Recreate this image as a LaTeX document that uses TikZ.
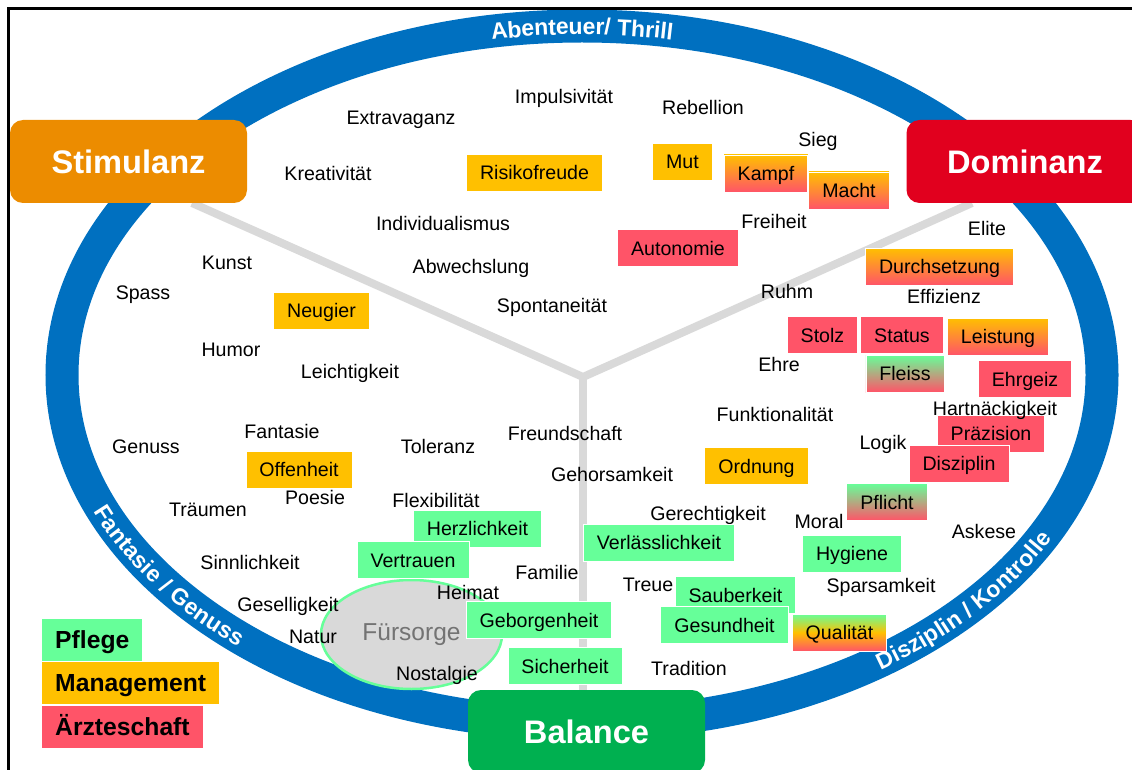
\documentclass[tikz,border=0pt]{standalone}
\usepackage{fontspec}
\setmainfont{Liberation Sans}
\usetikzlibrary{decorations.text,shapes.geometric}

\definecolor{ringblue}{RGB}{0,112,192}
\definecolor{stimorange}{RGB}{236,140,0}
\definecolor{domred}{RGB}{225,0,30}
\definecolor{balgreen}{RGB}{0,176,80}
\definecolor{pflege}{RGB}{102,255,153}
\definecolor{mgmt}{RGB}{255,192,0}
\definecolor{arzt}{RGB}{255,84,104}
\definecolor{spokegray}{RGB}{217,217,217}
\newcommand\wordfont{\fontsize{19.6}{22}\selectfont}
\newcommand\headfont{\fontsize{32.6}{36}\selectfont\bfseries}
\newcommand\ringfont{\fontsize{23}{26}\selectfont\bfseries}
\newcommand\legfont{\fontsize{24.7}{28}\selectfont\bfseries}

\begin{document}
\begin{tikzpicture}[x=1pt,y=1pt,
  word/.style={font=\wordfont,inner sep=0pt,text height=14pt,text depth=0pt},
  tag/.style={word,inner xsep=13.5pt,minimum height=37pt,draw=white,line width=.8pt},
  pfl/.style={tag,fill=pflege},
  mgt/.style={tag,fill=mgmt},
  arz/.style={tag,fill=arzt},
  mgtarz/.style={tag,top color=mgmt,bottom color=arzt},
  pflarz/.style={tag,top color=pflege,bottom color=arzt},
  head/.style={font=\headfont,text=white,text height=23.3pt,text depth=0pt,inner sep=0pt,
    minimum width=237pt,minimum height=83pt,rounded corners=13pt},
  spoke/.style={spokegray,line width=8pt},
  ringtext/.style={decorate,decoration={text along path,text={|\ringfont|#1},
    text color=white,text align=center,raise=-8.5pt}},
  legend/.style={font=\legfont,text height=17.7pt,text depth=0pt,inner xsep=13pt,
    minimum height=42pt,anchor=west}]

\useasboundingbox (0,0) rectangle (1132,-770);
\clip (0,0) rectangle (1132,-770);

\coordinate (ringc) at (582,-375);
\draw[ringblue,line width=33pt] (ringc) ellipse[x radius=520,y radius=349];

\path (ringc) ++(125:520 and 349) coordinate (abA);
\path (ringc) ++(195:520 and 349) coordinate (fgA);
\path (ringc) ++(299:520 and 349) coordinate (dkA);
\path[ringtext=Abenteuer/ Thrill] (abA) arc[start angle=125,end angle=55,x radius=520,y radius=349];
\path[ringtext=Fantasie / Genuss] (fgA) arc[start angle=195,end angle=235,x radius=520,y radius=349];
\path[ringtext=Disziplin / Kontrolle] (dkA) arc[start angle=299,end angle=340,x radius=520,y radius=349];

%% Y
\coordinate (hub) at (583,-377);
\coordinate (stimfoot) at (192,-203);
\coordinate (domfoot) at (972,-203);
\coordinate (balfoot) at (583,-700);
\draw[spoke] (stimfoot)--(hub)--(domfoot);
\draw[spoke] (hub)--(balfoot);

\node[head,fill=stimorange] (stim) at (128.5,-161.5) {Stimulanz};
\node[head,fill=domred] (dom) at (1025,-161.5) {Dominanz};
\node[head,fill=balgreen] (bal) at (586.5,-731.5) {Balance};

\node[ellipse,draw=pflege,line width=2.5pt,fill=spokegray,minimum width=181pt,minimum height=109pt,
  font=\fontsize{24.5}{28}\selectfont,text=black!55] (fuer) at (411.5,-634.5) {Fürsorge};

%% plain words
\node[word] (extra) at (401,-118) {Extravaganz};
\node[word] (impuls) at (564,-96.5) {Impulsivität};
\node[word] (rebel) at (703,-108) {Rebellion};
\node[word] (sieg) at (818,-140) {Sieg};
\node[word] (krea) at (328,-174) {Kreativität};
\node[word] (indiv) at (443,-223) {Individualismus};
\node[word] (frei) at (774,-222) {Freiheit};
\node[word] (elite) at (987,-229) {Elite};
\node[word] (kunst) at (227,-262) {Kunst};
\node[word] (spass) at (143,-292) {Spass};
\node[word] (abw) at (471,-266) {Abwechslung};
\node[word] (spont) at (552,-305) {Spontaneität};
\node[word] (ruhm) at (787,-291) {Ruhm};
\node[word] (effiz) at (944,-296) {Effizienz};
\node[word] (humor) at (231,-349) {Humor};
\node[word] (leicht) at (350,-371) {Leichtigkeit};
\node[word] (ehre) at (779,-364) {Ehre};
\node[word] (funkt) at (775,-414) {Funktionalität};
\node[word] (genuss) at (146,-446) {Genuss};
\node[word] (fanta) at (282,-431) {Fantasie};
\node[word] (toler) at (438,-446) {Toleranz};
\node[word] (freund) at (565,-433) {Freundschaft};
\node[word] (logik) at (883,-442) {Logik};
\node[word] (gehors) at (612,-474) {Gehorsamkeit};
\node[word] (poesie) at (315,-497) {Poesie};
\node[word] (flex) at (436,-500) {Flexibilität};
\node[word] (traeum) at (208,-509) {Träumen};
\node[word] (gerecht) at (708,-513) {Gerechtigkeit};
\node[word] (moral) at (819,-521) {Moral};
\node[word] (askese) at (984,-531) {Askese};
\node[word] (sinnl) at (250,-562) {Sinnlichkeit};
\node[word] (familie) at (547,-572) {Familie};
\node[word] (treue) at (648,-584) {Treue};
\node[word] (spars) at (881,-585) {Sparsamkeit};
\node[word] (gesell) at (288,-604) {Geselligkeit};
\node[word] (heimat) at (468,-592) {Heimat};
\node[word] (natur) at (313,-636) {Natur};
\node[word] (nostal) at (437,-673) {Nostalgie};
\node[word] (trad) at (689,-668) {Tradition};

%% tagged words
\node[mgt] (risiko) at (534.5,-172.5) {Risikofreude};
\node[mgt] (mut) at (682.5,-161.5) {Mut};
\node[mgtarz] (kampf) at (766,-173.5) {Kampf};
\node[mgtarz] (macht) at (849,-190.5) {Macht};
\node[arz] (auton) at (678,-248) {Autonomie};
\node[mgtarz] (durch) at (939.5,-266.5) {Durchsetzung};
\node[mgt] (neug) at (321.5,-310.5) {Neugier};
\node[arz] (stolz) at (822.5,-335) {Stolz};
\node[arz] (status) at (902,-335) {Status};
\node[mgtarz] (leist) at (998,-336.5) {Leistung};
\node[pflarz] (fleiss) at (905,-373.5) {Fleiss};
\node[arz] (ehrg) at (1025,-379) {Ehrgeiz};
\node[arz] (praez) at (991,-433.5) {Präzision};
\node[arz] (diszi) at (959,-463.5) {Disziplin};
\node[word] (hartn) at (995,-408) {Hartnäckigkeit};
\node[mgt] (offen) at (299,-469.5) {Offenheit};
\node[mgt] (ordn) at (756.5,-466) {Ordnung};
\node[pflarz] (pflicht) at (887,-502) {Pflicht};
\node[pfl] (herz) at (477.5,-528.5) {Herzlichkeit};
\node[pfl] (vertr) at (413,-560) {Vertrauen};
\node[pfl] (verl) at (659,-542.5) {Verlässlichkeit};
\node[pfl] (hyg) at (852,-553.5) {Hygiene};
\node[pfl] (sauber) at (735.5,-595) {Sauberkeit};
\node[pfl] (gesund) at (724.5,-625) {Gesundheit};
\node[pfl] (geborg) at (539,-620) {Geborgenheit};
\node[pfl] (sicher) at (565,-666) {Sicherheit};
\node[tag,top color=pflege,bottom color=arzt,middle color=mgmt] (qual) at (839.5,-632.5) {Qualität};

%% legend
\node[legend,fill=pflege] (lpfl) at (42,-640) {Pflege};
\node[legend,fill=mgmt] (lmgt) at (42,-682.5) {Management};
\node[legend,fill=arzt] (larz) at (42,-727) {Ärzteschaft};

\draw[line width=2.5pt] (8.5,-780) |- (1140,-8.5);
\end{tikzpicture}
\end{document}
